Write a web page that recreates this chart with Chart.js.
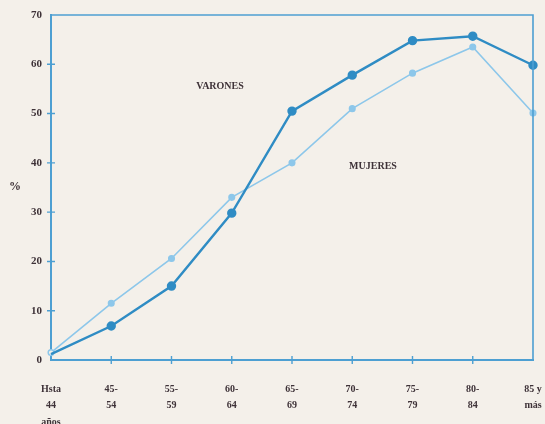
<!DOCTYPE html>
<html>
<head>
<meta charset="utf-8">
<script src="https://cdn.jsdelivr.net/npm/chart.js@4"></script>
<style>
html,body{margin:0;padding:0;background:#f4f0ea;}
#wrap{width:545px;height:424px;position:relative;}
</style>
</head>
<body>
<div id="wrap"><canvas id="c" width="545" height="424"></canvas></div>
<script>
const categories = [["Hsta","44","años"],["45-","54"],["55-","59"],["60-","64"],["65-","69"],["70-","74"],["75-","79"],["80-","84"],["85 y","más"]];
const varones = [1.2, 6.9, 15, 29.8, 50.5, 57.8, 64.8, 65.7, 59.8];
const mujeres = [1.5, 11.5, 20.6, 33, 40, 51, 58.2, 63.5, 50.1];
const yTicks = [0,10,20,30,40,50,60,70];

const axisColor = '#4d9fd2';
const darkColor = '#2f8cc4';
const lightColor = '#8dc7ea';
const textColor = '#3e3238';

const decor = {
  id: 'decor',
  afterDraw(chart) {
    const ctx = chart.ctx;
    const a = chart.chartArea;
    const xs = chart.scales.x, ys = chart.scales.y;
    ctx.save();
    ctx.strokeStyle = axisColor;
    ctx.lineWidth = 1.6;
    ctx.beginPath();
    ctx.moveTo(a.left, a.top); ctx.lineTo(a.right, a.top); ctx.lineTo(a.right, a.bottom);
    ctx.stroke();
    ctx.lineWidth = 1.4;
    ctx.beginPath();
    yTicks.forEach(v => {
      if (v === 0 || v === 70) return;
      const y = ys.getPixelForValue(v);
      ctx.moveTo(a.left - 4, y); ctx.lineTo(a.left + 4, y);
    });
    for (let i = 1; i < categories.length - 1; i++) {
      const x = xs.getPixelForValue(i);
      ctx.moveTo(x, a.bottom - 4); ctx.lineTo(x, a.bottom + 4);
    }
    ctx.stroke();
    ctx.fillStyle = textColor;
    ctx.font = 'bold 10px "Liberation Serif", serif';
    ctx.textAlign = 'center';
    ctx.textBaseline = 'middle';
    ctx.fillText('VARONES', 220, 86);
    ctx.fillText('MUJERES', 373, 166);
    ctx.font = 'bold 12px "Liberation Serif", serif';
    ctx.fillText('%', 15, 187);
    ctx.restore();
  }
};

new Chart(document.getElementById('c'), {
  type: 'line',
  data: {
    labels: categories,
    datasets: [
      {
        label: 'MUJERES',
        data: mujeres,
        borderColor: lightColor,
        backgroundColor: mujeres.map((v,i) => i === 0 ? '#f4f0ea' : lightColor),
        pointBorderColor: lightColor,
        borderWidth: 1.6,
        pointRadius: 2.8,
        pointBorderWidth: 1.5,
        tension: 0,
        order: 2
      },
      {
        label: 'VARONES',
        data: varones,
        borderColor: darkColor,
        backgroundColor: varones.map((v,i) => i === 0 ? 'rgba(0,0,0,0)' : darkColor),
        pointBorderColor: varones.map((v,i) => i === 0 ? 'rgba(0,0,0,0)' : darkColor),
        borderWidth: 2.4,
        pointRadius: 3.5,
        tension: 0,
        order: 1
      }
    ]
  },
  options: {
    responsive: false,
    animation: false,
    layout: { padding: { left: 0, right: 12, top: 15, bottom: 0 } },
    plugins: { legend: { display: false }, tooltip: { enabled: false } },
    scales: {
      x: {
        offset: false,
        grid: { display: false, drawTicks: false },
        border: { color: axisColor, width: 2 },
        ticks: {
          color: textColor,
          font: { family: '"Liberation Serif", serif', size: 10, weight: 'bold', lineHeight: 1.65 },
          padding: 21,
          maxRotation: 0,
          autoSkip: false
        },
        afterFit(s) { s.height = 64; s.paddingLeft = 0; s.paddingRight = 0; }
      },
      y: {
        min: 0, max: 70,
        grid: { display: false, drawTicks: false },
        border: { color: axisColor, width: 2 },
        ticks: {
          stepSize: 10,
          color: textColor,
          font: { family: '"Liberation Serif", serif', size: 11, weight: 'bold' },
          padding: 9
        },
        afterFit(s) { s.width = 51; s.paddingTop = 0; s.paddingBottom = 0; }
      }
    }
  },
  plugins: [decor]
});
</script>
</body>
</html>
